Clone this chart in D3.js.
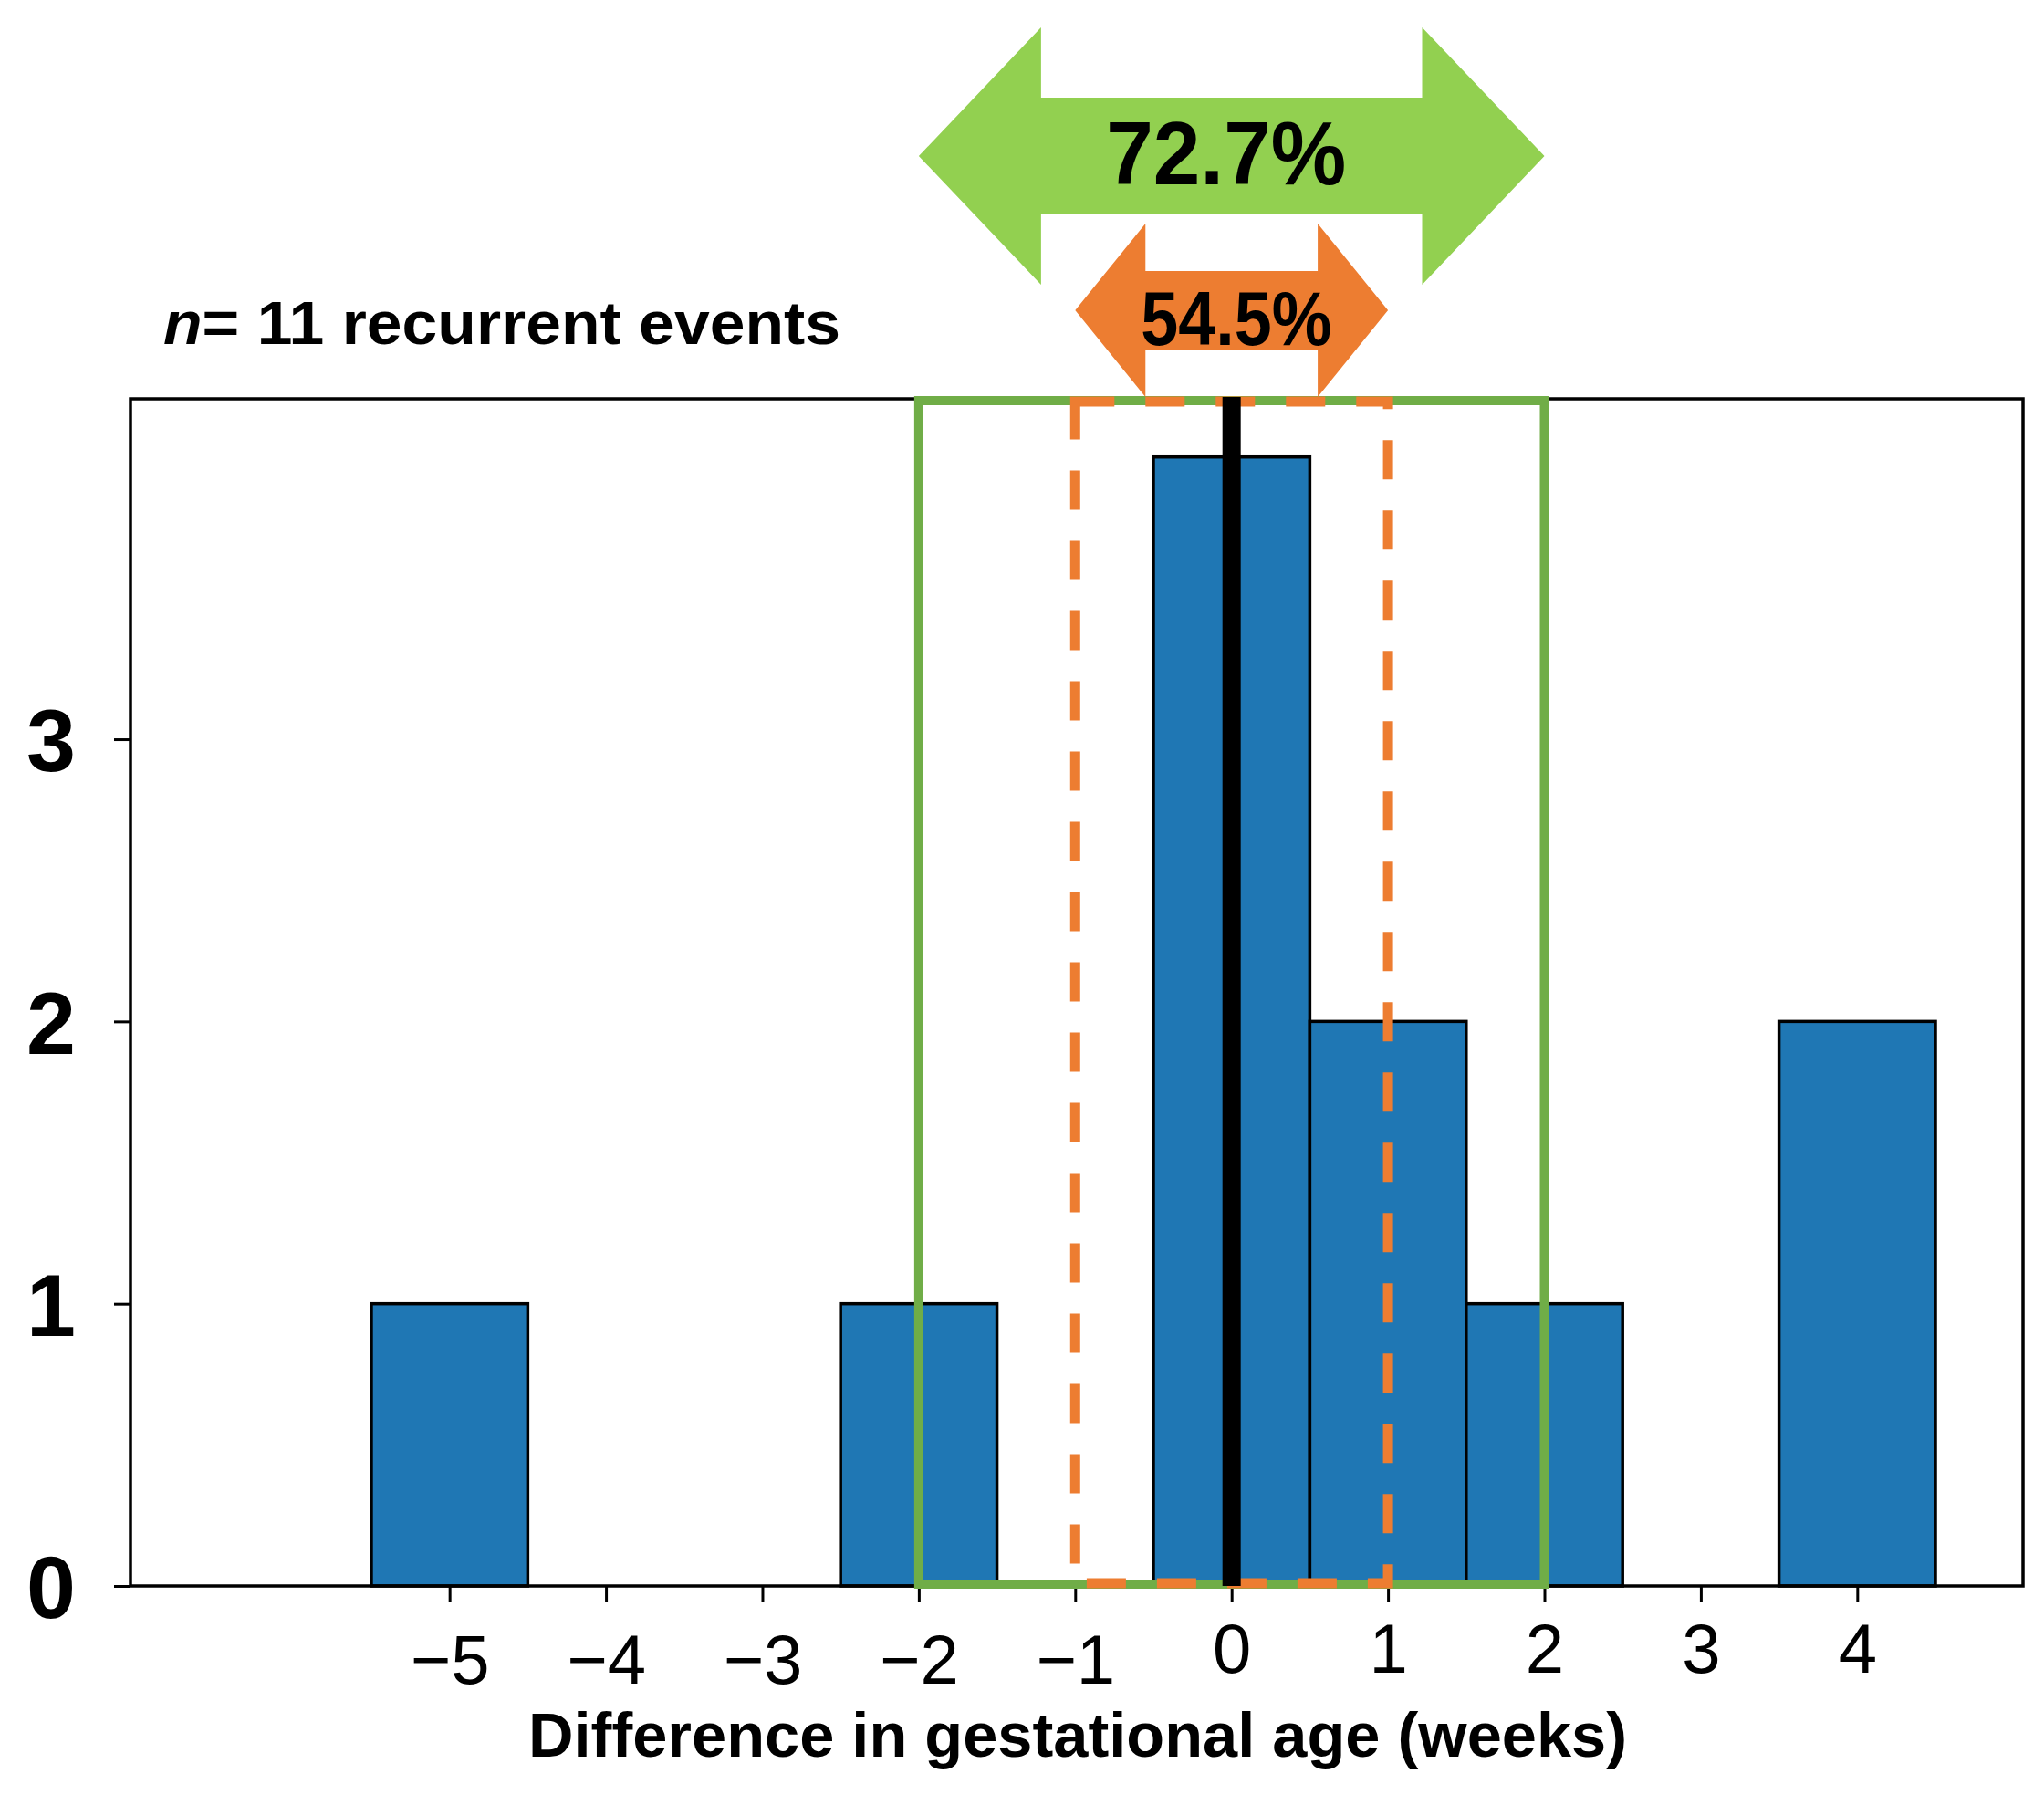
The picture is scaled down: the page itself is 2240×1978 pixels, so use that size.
<!DOCTYPE html>
<html>
<head>
<meta charset="utf-8">
<script src="https://cdn.jsdelivr.net/npm/d3@7"></script>
<style>
  body { margin: 0; background: #fff; }
  text { font-family: 'Liberation Sans', Arial, sans-serif; }
</style>
</head>
<body>
<div id="chart"></div>
<script>
// histogram bins (bin centre, count)
const binCenters = [-6, -5, -4, -3, -2, -1, 0, 1, 2, 3, 4];
const binCounts = [0, 1, 0, 0, 1, 0, 4, 2, 1, 0, 2];
const xTicks = [-5, -4, -3, -2, -1, 0, 1, 2, 3, 4];
const yTicks = [0, 1, 2, 3];
const wideRange = [-2, 2];
const narrowRange = [-1, 1];
const rangeLabels = ['72.7%', '54.5%'];
const medianDiff = 0;
const nEvents = 11;

const dim = { width: 2240, height: 1978, left: 143, right: 2217, top: 437, bottom: 1738 };

const x = d3.scaleLinear()
    .domain([-7.04, 5.06])
    .range([dim.left, dim.right]);

const y = d3.scaleLinear()
    .domain([0, 4.206])
    .range([dim.bottom, dim.top]);

const svg = d3.select('#chart')
    .append('svg')
        .attr('width', dim.width)
        .attr('height', dim.height);

// bars
svg.append('g')
    .selectAll('rect')
    .data(binCenters)
    .enter()
    .append('rect')
        .attr('x', d => x(d - 0.5))
        .attr('width', d => x(d + 0.5) - x(d - 0.5))
        .attr('y', (d, i) => y(binCounts[i]))
        .attr('height', (d, i) => y(0) - y(binCounts[i]))
        .attr('fill', '#1f77b4')
        .attr('stroke', '#000')
        .attr('stroke-width', 3.5);

// axes
const yAxis = svg.append('g')
    .attr('transform', `translate(${dim.left}, 0)`)
    .call(d3.axisLeft(y).tickValues(yTicks).tickSize(18).tickPadding(42)
        .tickFormat(d3.format('d')));
yAxis.select('.domain').remove();
yAxis.selectAll('line').attr('stroke-width', 3);
yAxis.selectAll('text')
    .attr('font-size', 97)
    .attr('font-weight', 'bold')
    .attr('fill', '#000')
    .attr('dy', '0.36em');

const xAxis = svg.append('g')
    .attr('transform', `translate(0, ${dim.bottom})`)
    .call(d3.axisBottom(x).tickValues(xTicks).tickSize(17)
        .tickFormat(d => d < 0 ? '\u2212' + Math.abs(d) : d));
xAxis.select('.domain').remove();
xAxis.selectAll('line').attr('stroke-width', 3);
xAxis.selectAll('text')
    .attr('font-size', 76)
    .attr('fill', '#000')
    .attr('dy', null)
    .attr('y', d => d < 0 ? 107 : 95);

// frame
svg.append('rect')
    .attr('x', dim.left)
    .attr('y', dim.top)
    .attr('width', dim.right - dim.left)
    .attr('height', dim.bottom - dim.top)
    .attr('fill', 'none')
    .attr('stroke', '#000')
    .attr('stroke-width', 3.5);

// interval boxes
svg.append('rect')
    .attr('x', x(wideRange[0]))
    .attr('y', dim.top + 2)
    .attr('width', x(wideRange[1]) - x(wideRange[0]))
    .attr('height', dim.bottom - dim.top - 4)
    .attr('fill', 'none')
    .attr('stroke', '#70ad47')
    .attr('stroke-width', 10);

const ox0 = x(narrowRange[0]), ox1 = x(narrowRange[1]);
svg.append('path')
    .attr('d', `M${ox0},${dim.top + 3} H${ox1} V${dim.bottom - 3} H${ox0} Z`)
    .attr('fill', 'none')
    .attr('stroke', '#ed7d31')
    .attr('stroke-width', 11)
    .attr('stroke-dasharray', '43,34');

// median line
svg.append('line')
    .attr('x1', x(medianDiff))
    .attr('x2', x(medianDiff))
    .attr('y1', dim.top - 2)
    .attr('y2', y(0))
    .attr('stroke', '#000')
    .attr('stroke-width', 20);

// double arrows above the plot
const arrowPath = (x0, x1, cy, head, shaft, wing) => [
    [x0, cy], [x0 + head, cy - wing], [x0 + head, cy - shaft],
    [x1 - head, cy - shaft], [x1 - head, cy - wing], [x1, cy],
    [x1 - head, cy + wing], [x1 - head, cy + shaft], [x0 + head, cy + shaft],
    [x0 + head, cy + wing]
].map(p => p.join(',')).join(' ');

const plotArrow = (range, label, color, cy, head, shaft, wing, fontSize, textLen, base, dx) => {
    const x0 = x(range[0]), x1 = x(range[1]);
    svg.append('polygon')
        .attr('points', arrowPath(x0, x1, cy, head, shaft, wing))
        .attr('fill', color);
    svg.append('text')
        .attr('x', (x0 + x1) / 2 + dx)
        .attr('y', cy + base)
        .attr('text-anchor', 'middle')
        .attr('font-size', fontSize)
        .attr('font-weight', 'bold')
        .attr('textLength', textLen)
        .attr('lengthAdjust', 'spacingAndGlyphs')
        .text(label);
};

plotArrow(wideRange, rangeLabels[0], '#92d050', 171, 134, 64, 141, 98, 263, 31, -6);
plotArrow(narrowRange, rangeLabels[1], '#ed7d31', 340, 77, 43, 95, 84, 209, 38, 5);

// n label
const nLabel = svg.append('text')
    .attr('x', 179)
    .attr('y', 377)
    .attr('font-size', 66)
    .attr('font-weight', 'bold')
    .attr('textLength', 742)
    .attr('lengthAdjust', 'spacingAndGlyphs');
nLabel.append('tspan').attr('font-style', 'italic').text('n');
nLabel.append('tspan').text(`= ${nEvents} recurrent events`);

// x axis title
svg.append('text')
    .attr('x', 579)
    .attr('y', 1925)
    .attr('font-size', 68)
    .attr('font-weight', 'bold')
    .attr('textLength', 1204)
    .attr('lengthAdjust', 'spacingAndGlyphs')
    .text('Difference in gestational age (weeks)');
</script>
</body>
</html>
